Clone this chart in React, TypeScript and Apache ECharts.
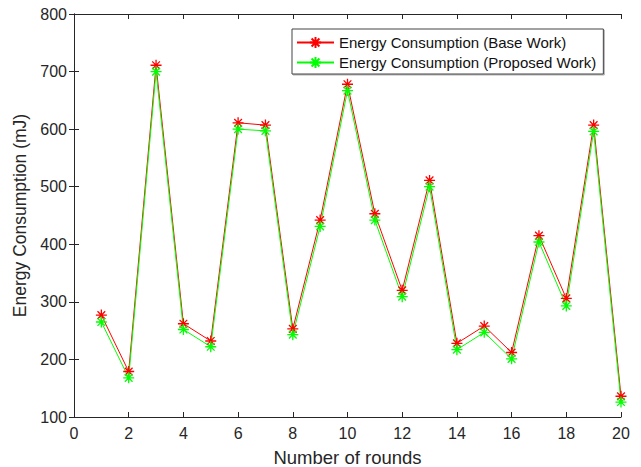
import React, { useEffect, useRef } from "react";
import * as echarts from "echarts";

const rounds = [1, 2, 3, 4, 5, 6, 7, 8, 9, 10, 11, 12, 13, 14, 15, 16, 17, 18, 19, 20];
const baseWork = [277, 179, 711, 262, 232, 611, 607, 253, 442, 678, 453, 320, 511, 228, 258, 212, 415, 306, 607, 136];
const proposedWork = [265, 168, 700, 252, 222, 600, 597, 243, 431, 667, 442, 309, 500, 217, 247, 201, 404, 293, 596, 126];

const ASTERISK = "path://M5,0 L5,10 M0,5 L10,5 M1.5,1.5 L8.5,8.5 M1.5,8.5 L8.5,1.5";
const AXIS_COLOR = "#262626";
const FONT = "Liberation Sans, Arial, sans-serif";

export default function App() {
  const ref = useRef<HTMLDivElement>(null);
  useEffect(() => {
    if (!ref.current) return;
    const chart = echarts.init(ref.current, undefined, { renderer: "svg" });
    const axisCommon = {
      axisLine: { show: true, lineStyle: { color: AXIS_COLOR, width: 1 } },
      axisTick: { show: true, inside: true, length: 5, lineStyle: { color: AXIS_COLOR } },
      splitLine: { show: false },
    };
    const series = (name: string, data: number[], color: string) => ({
      name,
      type: "line",
      data: rounds.map((r, i) => [r, data[i]]),
      symbol: ASTERISK,
      symbolSize: 11,
      showAllSymbol: true,
      lineStyle: { color, width: 1 },
      itemStyle: { color: color, borderColor: color, borderWidth: 1.3 },
      emphasis: { disabled: true },
    });
    chart.setOption({
      animation: false,
      backgroundColor: "#ffffff",
      textStyle: { fontFamily: FONT },
      grid: { left: 74, right: 20, top: 14, bottom: 50, outerBoundsMode: "none", containLabel: false },
      legend: {
        orient: "vertical",
        left: 292,
        top: 29,
        padding: [6, 7, 4, 4],
        itemWidth: 37,
        itemHeight: 14,
        itemGap: 5,
        backgroundColor: "#ffffff",
        borderColor: "#444",
        borderWidth: 1,
        shadowColor: "rgba(0,0,0,0.3)",
        shadowOffsetX: 1,
        shadowOffsetY: 1,
        shadowBlur: 1,
        textStyle: { fontSize: 15, color: "#111", fontFamily: FONT },
      },
      xAxis: [
        {
          type: "value",
          min: 0,
          max: 20,
          interval: 2,
          name: "Number of rounds",
          nameLocation: "middle",
          nameGap: 31,
          nameTextStyle: { fontSize: 18.5, color: AXIS_COLOR, fontFamily: FONT },
          axisLabel: { fontSize: 16, color: AXIS_COLOR, margin: 8, fontFamily: FONT },
          ...axisCommon,
        },
        {
          type: "value",
          position: "top",
          min: 0,
          max: 20,
          interval: 2,
          axisLabel: { show: false },
          ...axisCommon,
        },
      ],
      yAxis: [
        {
          type: "value",
          min: 100,
          max: 800,
          interval: 100,
          name: "Energy Consumption (mJ)",
          nameLocation: "middle",
          nameGap: 42,
          nameTextStyle: { fontSize: 17.5, color: AXIS_COLOR, fontFamily: FONT },
          axisLabel: { fontSize: 16, color: AXIS_COLOR, margin: 7, fontFamily: FONT },
          ...axisCommon,
        },
        {
          type: "value",
          position: "right",
          min: 100,
          max: 800,
          interval: 100,
          axisLabel: { show: false },
          ...axisCommon,
        },
      ],
      series: [
        series("Energy Consumption (Base Work)", baseWork, "#ff0000"),
        series("Energy Consumption (Proposed Work)", proposedWork, "#00ff00"),
      ],
    });
    return () => chart.dispose();
  }, []);
  return <div ref={ref} style={{ width: 641, height: 467, position: "absolute", left: 0, top: 0 }} />;
}
